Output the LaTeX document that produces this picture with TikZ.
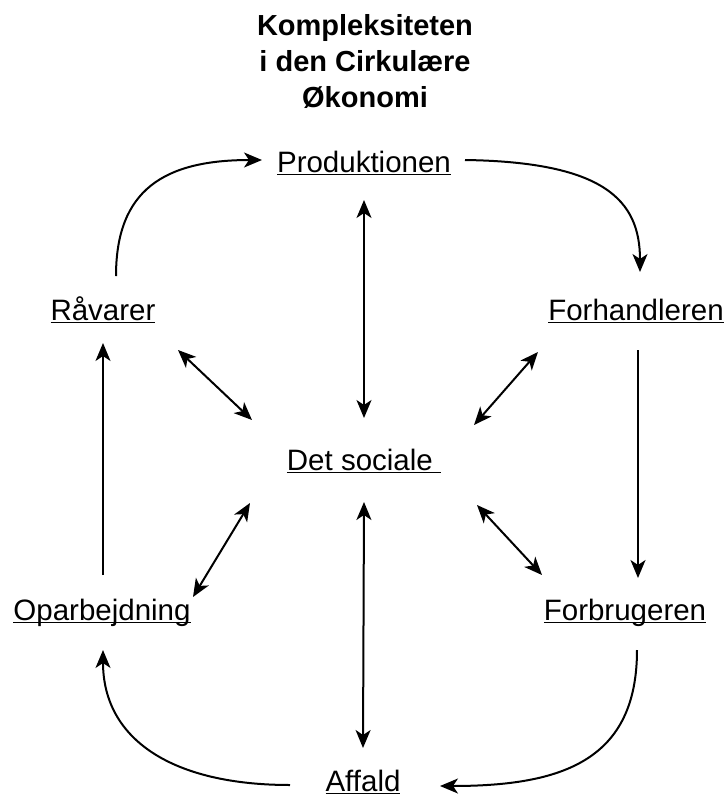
\documentclass[tikz,border=0pt]{standalone}
\usepackage{fontspec}
\setmainfont{Liberation Sans}
\usetikzlibrary{arrows.meta,calc}
\newcommand\myul[1]{\setbox0\hbox{#1}\rlap{\rule[-3.3pt]{\wd0}{1.6pt}}\box0}
\tikzset{
  lbl/.style={anchor=base, inner sep=0pt, font=\fontsize{29.5}{34}\selectfont},
  tip/.style={Stealth[length=18pt,width=15pt,inset=5pt]},
  conn/.style={line width=2pt, -{Stealth[length=18pt,width=15pt,inset=5pt]}},
  dconn/.style={line width=2pt, {Stealth[length=18pt,width=15pt,inset=5pt]}-{Stealth[length=18pt,width=15pt,inset=5pt]}},
}
\begin{document}
\begin{tikzpicture}[x=1pt,y=-1pt]
\useasboundingbox (0,0) rectangle (727,796);
\node[anchor=base, inner sep=0pt, align=center, font=\fontsize{29}{36}\selectfont\bfseries] (title) at (365,107) {Kompleksiteten\\i den Cirkulære\\Økonomi};
\node[lbl] (prod) at (364,172) {\myul{Produktionen}};
\node[lbl] (rav) at (103,320) {\myul{Råvarer}};
\node[lbl] (forh) at (636,320) {\myul{Forhandleren}};
\node[lbl] (soc) at (364,470) {\myul{Det sociale\ }};
\node[lbl] (opa) at (102,620) {\myul{Oparbejdning}};
\node[lbl] (forb) at (625,620) {\myul{Forbrugeren}};
\node[lbl] (aff) at (363,791) {\myul{Affald}};
% cycle
\draw[conn] ([shift={(13,-44)}]rav.base) .. controls ([shift={(13,-130)}]rav.base) and ([shift={(-200,-12)}]prod.base) .. ([shift={(-102,-12)}]prod.base);
\draw[conn] ([shift={(101,-12)}]prod.base) .. controls ([shift={(240,-10)}]prod.base) and ([shift={(4,-120)}]forh.base) .. ([shift={(4,-48)}]forh.base);
\draw[conn] ([shift={(2,30)}]forh.base) -- ([shift={(13,-42)}]forb.base);
\draw[conn] ([shift={(12,30)}]forb.base) .. controls ([shift={(12,140)}]forb.base) and ([shift={(200,-5)}]aff.base) .. ([shift={(77,-5)}]aff.base);
\draw[conn] ([shift={(-73,-6)}]aff.base) .. controls ([shift={(-190,-6)}]aff.base) and ([shift={(1,120)}]opa.base) .. ([shift={(1,30)}]opa.base);
\draw[conn] ([shift={(1,-45)}]opa.base) -- ([shift={(0,23)}]rav.base);
% social links
\draw[dconn] ([shift={(0,28)}]prod.base) -- ([shift={(0,-52)}]soc.base);
\draw[dconn] ([shift={(0,32)}]soc.base) -- ([shift={(0,-43)}]aff.base);
\draw[dconn] ([shift={(75,30)}]rav.base) -- ([shift={(-112,-50)}]soc.base);
\draw[dconn] ([shift={(-98,32)}]forh.base) -- ([shift={(110,-45)}]soc.base);
\draw[dconn] ([shift={(91,-23)}]opa.base) -- ([shift={(-114,33)}]soc.base);
\draw[dconn] ([shift={(-83,-45)}]forb.base) -- ([shift={(113,35)}]soc.base);
\end{tikzpicture}
\end{document}
